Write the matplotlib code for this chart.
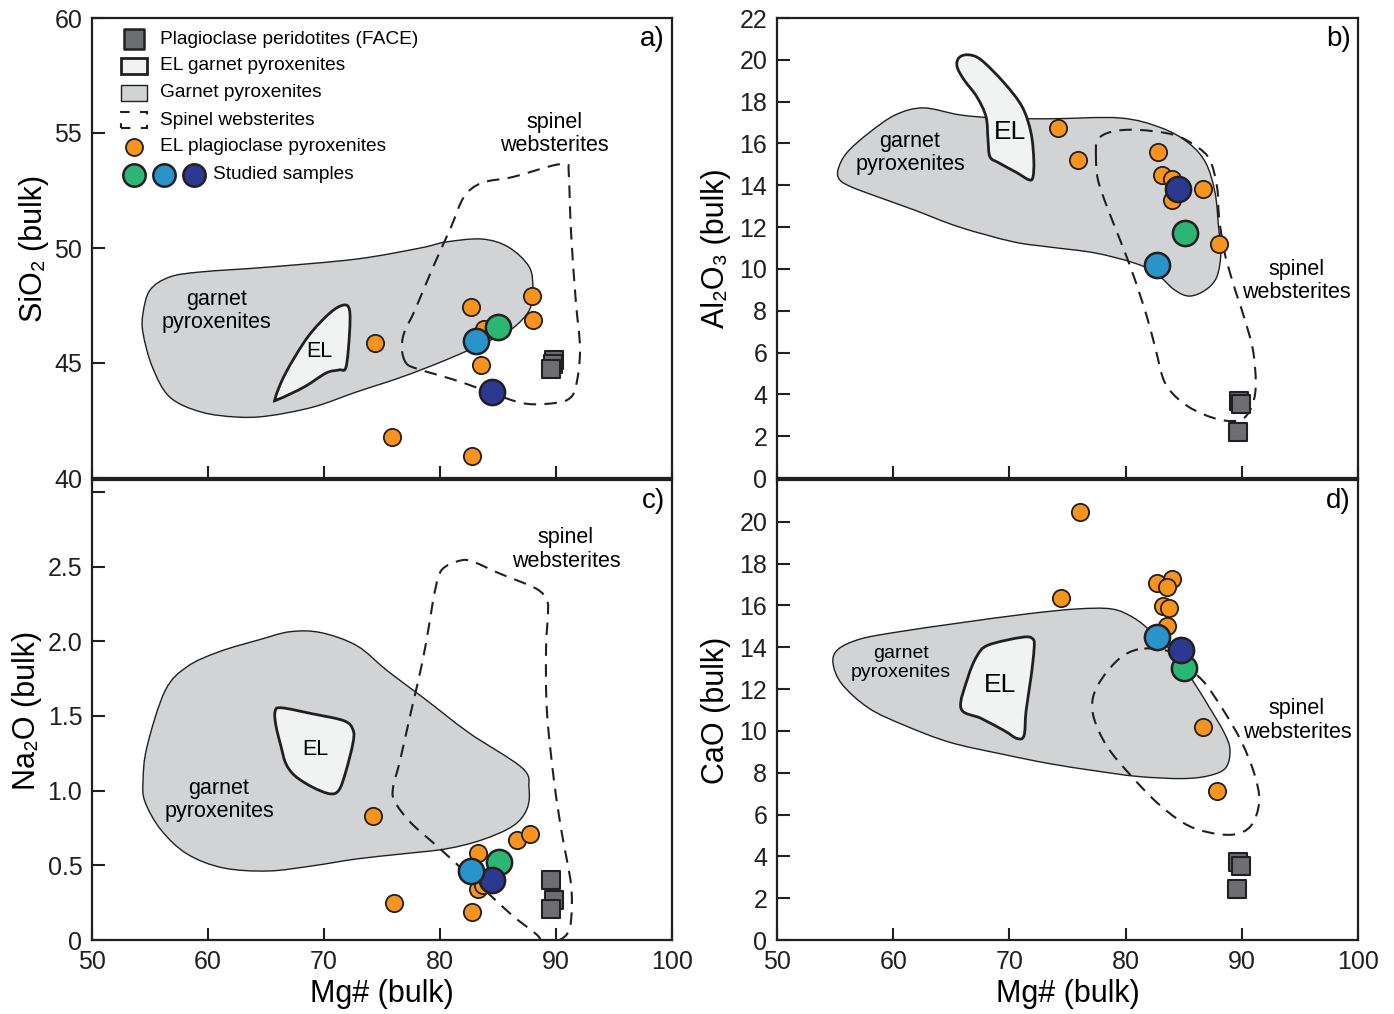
import numpy as np
import matplotlib.pyplot as plt
from matplotlib.patches import Polygon, Rectangle, PathPatch
from matplotlib.path import Path

plt.rcParams['font.family'] = ['Liberation Sans', 'DejaVu Sans']

# colours (Illustrator-like swatches)
col_face = '#6d6e71'
col_garnet = '#d1d3d4'
col_el = '#f1f2f2'
col_orange = '#f7941d'
col_studied = ['#2bb673', '#2a93c9', '#2b3990']   # green, blue, dark blue
draw_order = [0, 2, 1]

# ---------------- panel a : SiO2 ----------------
face_mg_a = [89.8, 89.7, 89.6]
face_sio2 = [45.15, 44.95, 44.75]
orange_mg_a = [74.4, 75.9, 82.7, 82.8, 87.9, 88.0, 83.5, 83.8]
orange_sio2 = [45.87, 41.78, 47.43, 40.96, 47.9, 46.87, 44.9, 46.5]
studied_mg_a = [85.0, 83.1, 84.5]
studied_sio2 = [46.57, 45.96, 43.74]

garnet_a_x = [54.4, 55.0, 56.7, 59.4, 65.2, 72.8, 78.3, 80.5, 83.6, 85.9, 87.7, 88.0, 87.7,
              86.3, 84.4, 80.5, 76.7, 72.8, 69.1, 65.2, 62.5, 59.4, 56.7, 55.2, 54.4]
garnet_a_y = [47.17, 48.17, 48.74, 48.96, 49.17, 49.52, 50.0, 50.26, 50.39, 50.04, 49.17, 48.17, 47.3,
              46.52, 46.0, 45.13, 44.39, 43.74, 43.09, 42.7, 42.65, 42.87, 43.52, 44.83, 46.3]
el_a_x = [65.8, 66.7, 68.6, 70.5, 71.7, 72.2, 72.2, 71.9, 71.3, 70.2, 68.3, 66.1]
el_a_y = [43.48, 44.57, 46.13, 47.17, 47.52, 47.3, 46.3, 44.83, 44.7, 44.57, 43.96, 43.43]
spinel_a_x = [77.07, 76.72, 76.9, 77.84, 79.4, 80.95, 82.07, 83.6, 86.3, 89.83, 90.95, 91.1, 91.3,
              91.7, 92.07, 91.7, 90.95, 89.05, 87.07, 84.4, 82.07, 79.83, 77.84]
spinel_a_y = [45.0, 45.57, 46.3, 47.3, 49.17, 50.91, 52.22, 52.83, 53.09, 53.6, 53.6, 53.26, 50.65,
              47.74, 45.57, 43.96, 43.39, 43.22, 43.26, 43.7, 44.13, 44.48, 44.78]

# ---------------- panel b : Al2O3 ----------------
face_mg_b = [89.8, 89.9, 89.7]
face_al = [3.7, 3.55, 2.2]
orange_mg_b = [74.2, 75.9, 82.8, 83.1, 84.0, 86.7, 88.0, 84.0]
orange_al = [16.75, 15.2, 15.6, 14.5, 13.3, 13.8, 11.2, 14.3]
studied_mg_b = [85.1, 82.7, 84.5]
studied_al = [11.7, 10.2, 13.8]

garnet_b_x = [55.25, 56.0, 57.9, 60.2, 62.6, 65.7, 68.8, 73.4, 79.5, 83.05, 85.4, 86.9, 87.7, 88.0,
              88.2, 87.85, 86.9, 85.5, 84.2, 82.6, 80.7, 77.3, 73.4, 70.3, 65.7, 61.8, 58.7, 56.4, 55.4]
garnet_b_y = [14.74, 15.55, 16.5, 17.37, 17.7, 17.37, 17.22, 17.18, 17.22, 16.75, 16.03, 15.07, 13.64, 12.0,
              10.77, 9.62, 9.0, 8.7, 9.0, 9.8, 10.29, 10.77, 11.05, 11.3, 12.0, 12.82, 13.44, 13.92, 14.26]
el_b_x = [65.66, 66.44, 67.56, 69.54, 71.1, 71.86, 72.1, 72.03, 71.69, 70.65, 69.1, 68.33, 68.16,
          67.99, 67.2, 66.1, 65.5]
el_b_y = [20.1, 20.24, 20.0, 18.9, 17.75, 16.5, 15.2, 14.4, 14.26, 14.6, 15.07, 15.36, 16.17,
          17.27, 18.23, 19.04, 19.67]
spinel_b_x = [77.45, 77.6, 78.8, 81.07, 84.17, 86.14, 87.26, 87.87, 88.04, 88.47, 89.24, 90.19, 90.96,
              91.2, 90.96, 90.19, 88.8, 86.9, 84.94, 83.39, 82.6, 81.84, 80.72, 79.52, 78.4, 77.62]
spinel_b_y = [15.36, 16.17, 16.56, 16.65, 16.41, 15.84, 15.2, 13.92, 12.49, 10.9, 9.33, 7.7, 6.12,
              4.55, 3.59, 2.87, 2.73, 3.0, 3.59, 4.55, 6.12, 7.7, 9.62, 11.39, 12.97, 14.26]

# ---------------- panel c : Na2O ----------------
face_mg_c = [89.6, 89.8, 89.6]
face_na = [0.40, 0.27, 0.21]
orange_mg_c = [74.2, 76.0, 82.8, 83.3, 86.6, 87.8, 83.3, 83.7, 84.1]
orange_na = [0.83, 0.25, 0.19, 0.58, 0.67, 0.71, 0.34, 0.37, 0.40]
studied_mg_c = [85.1, 82.7, 84.5]
studied_na = [0.52, 0.46, 0.40]

garnet_c_x = [54.4, 54.74, 56.3, 58.2, 60.95, 64.4, 67.07, 69.74, 72.84, 75.5, 78.6, 82.5, 87.07,
              87.67, 87.5, 86.3, 83.6, 80.5, 76.7, 72.84, 68.97, 65.17, 61.3, 58.2, 55.95, 54.57]
garnet_c_y = [1.066, 1.294, 1.669, 1.83, 1.93, 2.01, 2.064, 2.058, 1.97, 1.80, 1.62, 1.387, 1.153,
              1.019, 0.878, 0.764, 0.67, 0.61, 0.576, 0.543, 0.496, 0.462, 0.483, 0.576, 0.737, 0.925]
el_c_x = [65.78, 66.3, 68.97, 71.72, 72.5, 72.5, 71.9, 71.3, 70.5, 68.97, 67.5, 66.72, 66.3, 65.86]
el_c_y = [1.528, 1.555, 1.515, 1.468, 1.407, 1.32, 1.133, 1.005, 0.979, 1.025, 1.099, 1.18, 1.294, 1.434]
spinel_c_x = [88.8, 88.28, 86.3, 84.4, 82.07, 79.83, 77.5, 76.12, 75.95, 76.55, 77.5, 78.45, 79.05,
              79.57, 80.17, 81.72, 82.84, 85.17, 88.28, 89.22, 89.3, 89.14, 89.22, 89.83, 90.5,
              91.3, 91.3, 90.95, 90.17, 89.6]
spinel_c_y = [-0.01, 0.04, 0.16, 0.295, 0.463, 0.623, 0.784, 0.925, 1.019, 1.2, 1.528, 1.85, 2.105,
              2.34, 2.48, 2.54, 2.533, 2.453, 2.353, 2.272, 2.178, 1.944, 1.528, 1.066, 0.717,
              0.369, 0.134, 0.04, -0.01, -0.06]

# ---------------- panel d : CaO ----------------
face_mg_d = [89.7, 89.9, 89.6]
face_ca = [3.74, 3.55, 2.45]
orange_mg_d = [76.1, 74.4, 82.7, 84.0, 83.6, 83.2, 83.7, 83.6, 86.7, 87.9]
orange_ca = [20.48, 16.35, 17.07, 17.27, 16.9, 15.97, 15.87, 15.0, 10.17, 7.15]
studied_mg_d = [85.0, 82.7, 84.8]
studied_ca = [13.0, 14.48, 13.86]

garnet_d_x = [54.82, 55.25, 57.14, 60.24, 65.66, 71.43, 75.73, 78.83, 80.72, 82.27, 83.82, 84.94,
              86.14, 87.26, 88.47, 88.98, 88.64, 87.26, 84.94, 81.07, 77.28, 73.4, 69.54, 64.9,
              61.0, 57.92, 55.6]
garnet_d_y = [13.24, 13.9, 14.39, 14.72, 15.16, 15.59, 15.83, 15.83, 15.4, 14.72, 13.9, 13.09,
              12.09, 11.08, 9.93, 9.11, 8.25, 7.87, 7.72, 7.82, 8.1, 8.44, 8.87, 9.45,
              10.26, 11.08, 12.23]
el_d_x = [65.83, 66.44, 67.2, 68.16, 71.1, 72.03, 72.12, 71.86, 71.43, 71.26, 70.65, 69.54, 67.56]
el_d_y = [11.08, 12.57, 13.57, 14.1, 14.48, 14.39, 13.9, 12.57, 10.94, 9.78, 9.64, 10.02, 10.6]
spinel_d_x = [81.07, 79.52, 78.05, 77.2, 77.28, 78.4, 80.3, 82.6, 84.94, 86.9, 89.24, 90.8, 91.5,
              91.1, 90.0, 88.47, 86.9, 85.7, 84.6, 83.05]
spinel_d_y = [13.9, 13.48, 12.57, 11.61, 10.6, 9.26, 7.96, 6.62, 5.61, 5.18, 5.04, 5.47, 6.62,
              7.91, 9.45, 10.94, 12.23, 12.9, 13.57, 13.9]

legend_labels = ['Plagioclase peridotites (FACE)', 'EL garnet pyroxenites', 'Garnet pyroxenites',
                 'Spinel websterites', 'EL plagioclase pyroxenites', 'Studied samples']


def smooth_outline(xs, ys, ax):
    # closed Catmull-Rom outline through the traced vertices, drawn as cubic Bezier segments
    # (done in display space so the curvature looks the same on both axes)
    pts = ax.transData.transform(np.column_stack([xs, ys]))
    n = len(pts)
    verts = [pts[0]]
    codes = [Path.MOVETO]
    for i in range(n):
        p0, p1, p2, p3 = pts[i - 1], pts[i], pts[(i + 1) % n], pts[(i + 2) % n]
        verts += [p1 + (p2 - p0) / 6.0, p2 - (p3 - p1) / 6.0, p2]
        codes += [Path.CURVE4] * 3
    verts = ax.transData.inverted().transform(np.array(verts))
    return Path(verts, codes)


def draw_panel(ax, garnet, el, spinel, orange, face, studied):
    ax.set_xlim(50, 100)
    ax.add_patch(PathPatch(smooth_outline(*garnet, ax), facecolor=col_garnet,
                           edgecolor='#231f20', lw=1.0, zorder=1))
    ax.add_patch(PathPatch(smooth_outline(*el, ax), facecolor=col_el,
                           edgecolor='#231f20', lw=2.0, zorder=2))
    ax.add_patch(PathPatch(smooth_outline(*spinel, ax), facecolor='none',
                           edgecolor='#231f20', lw=1.5, ls=(0, (6, 4)), zorder=3))
    ax.scatter(orange[0], orange[1], s=155, c=col_orange, edgecolors='#231f20', linewidths=1.3, zorder=4)
    ax.scatter(face[0], face[1], s=175, marker='s', c=col_face, edgecolors='#231f20', linewidths=1.5, zorder=4)
    for i in draw_order:
        ax.scatter(studied[0][i], studied[1][i], s=330, c=col_studied[i], edgecolors='#231f20',
                   linewidths=1.8, zorder=5)
    for sp in ax.spines.values():
        sp.set_linewidth(1.6)
        sp.set_color('#231f20')
    ax.tick_params(direction='in', length=9, width=1.5, labelsize=18, pad=7, colors='#231f20',
                   top=False, right=False)
    ax.set_xticks([50, 60, 70, 80, 90, 100])


def field_labels(ax, gp, el, sp, el_size=15.5, gp_size=15.5):
    ax.text(gp[0], gp[1], 'garnet\npyroxenites', ha='center', va='center', fontsize=gp_size,
            linespacing=1.15, zorder=6)
    ax.text(el[0], el[1], 'EL', ha='center', va='center', fontsize=el_size, zorder=6)
    ax.text(sp[0], sp[1], 'spinel\nwebsterites', ha='center', va='center', fontsize=15.5,
            linespacing=1.15, zorder=6)


fig = plt.figure(figsize=(13.94, 10.14), dpi=100)
W, H = 1394, 1014
ax_a = fig.add_axes([92 / W, 1 - 478 / H, 580 / W, 460 / H])
ax_b = fig.add_axes([777 / W, 1 - 478 / H, 581 / W, 460 / H])
ax_c = fig.add_axes([92 / W, 1 - 940 / H, 580 / W, 460 / H])
ax_d = fig.add_axes([777 / W, 1 - 940 / H, 581 / W, 460 / H])
ax_a.set_ylim(40, 60)
ax_b.set_ylim(0, 22)
ax_c.set_ylim(0, 3.08)
ax_d.set_ylim(0, 22)

# a
draw_panel(ax_a, (garnet_a_x, garnet_a_y), (el_a_x, el_a_y), (spinel_a_x, spinel_a_y),
           (orange_mg_a, orange_sio2), (face_mg_a, face_sio2), (studied_mg_a, studied_sio2))
ax_a.set_yticks([40, 45, 50, 55, 60])
ax_a.set_xticklabels([])
ax_a.set_ylabel('SiO₂ (bulk)', fontsize=22, labelpad=4)
field_labels(ax_a, (60.7, 47.26), (69.57, 45.48), (89.83, 54.96))

# b
draw_panel(ax_b, (garnet_b_x, garnet_b_y), (el_b_x, el_b_y), (spinel_b_x, spinel_b_y),
           (orange_mg_b, orange_al), (face_mg_b, face_al), (studied_mg_b, studied_al))
ax_b.set_yticks(np.arange(0, 23, 2))
ax_b.set_xticklabels([])
ax_b.set_ylabel('Al₂O₃ (bulk)', fontsize=22, labelpad=6)
field_labels(ax_b, (61.45, 15.55), (70.05, 16.56), (94.67, 9.43), el_size=19)

# c
draw_panel(ax_c, (garnet_c_x, garnet_c_y), (el_c_x, el_c_y), (spinel_c_x, spinel_c_y),
           (orange_mg_c, orange_na), (face_mg_c, face_na), (studied_mg_c, studied_na))
ax_c.set_yticks([0, 0.5, 1.0, 1.5, 2.0, 2.5, 3.0])
ax_c.set_yticklabels(['0', '0.5', '1.0', '1.5', '2.0', '2.5', ''])
ax_c.set_ylabel('Na₂O (bulk)', fontsize=22, labelpad=4)
ax_c.set_xlabel('Mg# (bulk)', fontsize=22, labelpad=4)
field_labels(ax_c, (60.95, 0.938), (69.22, 1.273), (90.86, 2.614))

# d
draw_panel(ax_d, (garnet_d_x, garnet_d_y), (el_d_x, el_d_y), (spinel_d_x, spinel_d_y),
           (orange_mg_d, orange_ca), (face_mg_d, face_ca), (studied_mg_d, studied_ca))
ax_d.set_yticks(np.arange(0, 21, 2))
ax_d.set_ylabel('CaO (bulk)', fontsize=22, labelpad=6)
ax_d.set_xlabel('Mg# (bulk)', fontsize=22, labelpad=4)
field_labels(ax_d, (60.67, 13.24), (69.19, 12.18), (94.75, 10.5), el_size=19, gp_size=14)

for ax, lab in zip([ax_a, ax_b, ax_c, ax_d], ['a)', 'b)', 'c)', 'd)']):
    ax.text(0.988, 0.955, lab, transform=ax.transAxes, ha='right', va='center', fontsize=20, zorder=6)

# legend (panel a, drawn by hand in axes coordinates)
ty = [0.954, 0.896, 0.837, 0.778, 0.72, 0.659]
mx, tx = 0.0724, 0.117
rw, rh = 0.046, 0.036
tr = ax_a.transAxes
ax_a.scatter([mx], [ty[0]], s=190, marker='s', c=col_face, edgecolors='#231f20', linewidths=1.8,
             transform=tr, zorder=7)
ax_a.add_patch(Rectangle((mx - rw / 2, ty[1] - rh / 2), rw, rh, transform=tr, facecolor=col_el,
                         edgecolor='#231f20', lw=2.0, zorder=7))
ax_a.add_patch(Rectangle((mx - rw / 2, ty[2] - rh / 2), rw, rh, transform=tr, facecolor=col_garnet,
                         edgecolor='#231f20', lw=1.0, zorder=7))
ax_a.add_patch(Rectangle((mx - rw / 2, ty[3] - rh / 2), rw, rh, transform=tr, facecolor='none',
                         edgecolor='#231f20', lw=1.5, ls=(0, (4.5, 5)), zorder=7))
ax_a.scatter([mx], [ty[4]], s=150, c=col_orange, edgecolors='#231f20', linewidths=1.3,
             transform=tr, zorder=7)
for k, cx in enumerate([0.0724, 0.1241, 0.1759]):
    ax_a.scatter([cx], [ty[5]], s=260, c=col_studied[k], edgecolors='#231f20', linewidths=1.8,
                 transform=tr, zorder=7)
for k in range(5):
    ax_a.text(tx, ty[k], legend_labels[k], transform=tr, ha='left', va='center', fontsize=13.8, zorder=7)
ax_a.text(0.2086, ty[5], legend_labels[5], transform=tr, ha='left', va='center', fontsize=13.8, zorder=7)

fig.savefig('out.png', dpi=100)
